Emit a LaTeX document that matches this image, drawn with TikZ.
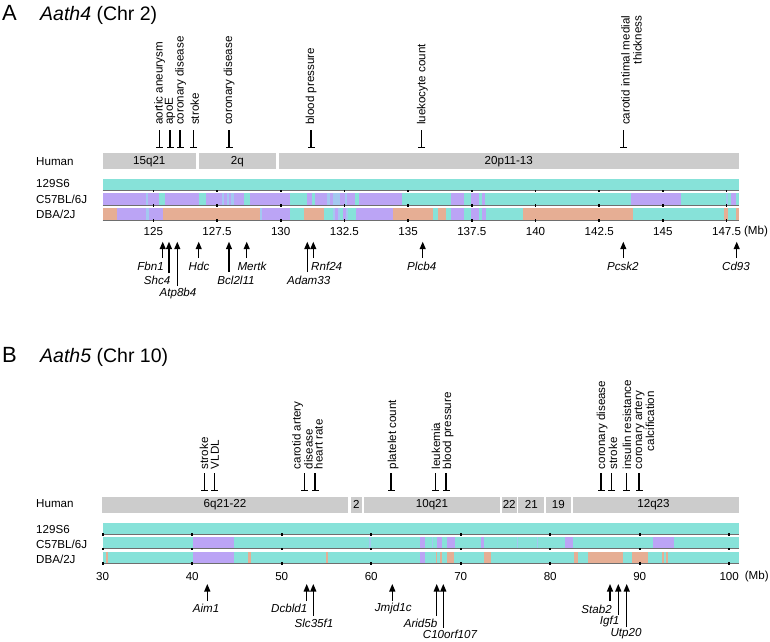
\documentclass[tikz,border=0pt]{standalone}
\usepackage{fontspec}
\setmainfont{Liberation Sans}
\usetikzlibrary{arrows.meta}
\definecolor{tealc}{HTML}{87E2D9}
\definecolor{purp}{HTML}{BBA4F5}
\definecolor{salm}{HTML}{E6AE94}
\definecolor{lblue}{HTML}{A3C9F0}
\definecolor{hgray}{HTML}{CCCCCC}
\definecolor{uline}{HTML}{6E6E6E}
\begin{document}
\begin{tikzpicture}[x=1pt,y=-1pt,
  lab/.style={font=\fontsize{11.6}{12}\selectfont, inner sep=0pt},
  glab/.style={font=\fontsize{11.6}{12}\selectfont\itshape, inner sep=0pt},
  rlab/.style={font=\fontsize{11.6}{12}\selectfont, inner sep=0pt, rotate=90, anchor=west},
  tbar/.style={line width=1.2pt, -{Bar[width=7pt,line width=1.2pt]}},
  garrow/.style={line width=1.2pt, -{Triangle[width=6pt,length=7.5pt]}},
  uln/.style={draw=uline, line width=0.8pt},
  tickm/.style={fill=black},
  ptitle/.style={anchor=base west, inner sep=0pt, font=\fontsize{22}{22}\selectfont},
  ttitle/.style={anchor=base west, inner sep=0pt, font=\fontsize{19.5}{20}\selectfont},
  hseg/.style={fill=hgray}
]
\useasboundingbox (0,0) rectangle (770,641);

%================ PANEL A ================
\node[ptitle] (pA) at (2,20) {A};
\node[ttitle] (tA) at (40,20) {\textit{Aath4} (Chr 2)};

% human bar
\fill[hseg] (102.7,153.3) rectangle (196,169.3);
\fill[hseg] (199,153.3) rectangle (275.7,169.3);
\fill[hseg] (278.7,153.3) rectangle (739,169.3);
\node[lab] (hA1) at (149.3,161.3) {15q21};
\node[lab] (hA2) at (237.3,161.3) {2q};
\node[lab] (hA3) at (508.8,161.3) {20p11-13};
\node[lab, anchor=west] (humA) at (36,161.3) {Human};

% strain labels
\node[lab, anchor=west] (sA1) at (36,183.5) {129S6};
\node[lab, anchor=west] (sA2) at (36,199) {C57BL/6J};
\node[lab, anchor=west] (sA3) at (36,214) {DBA/2J};

% strain bars
\fill[tealc] (102.7,178.5) rectangle (739,190.5);
\fill[tealc] (102.7,193) rectangle (739,205);
\fill[tealc] (102.7,208) rectangle (739,220);
\foreach \a/\b/\c in {102.7/145.7/purp,145.7/148.3/lblue,148.3/159.3/purp,165/199/purp,
  206/221.7/purp,221.7/224/lblue,224/227/purp,227/228.5/lblue,228.5/231/purp,231/234/lblue,
  234/244/purp,250/290/purp,306.7/312.3/purp,315/326.7/purp,326.7/330/lblue,330/333.3/purp,
  333.3/340/lblue,340/345/purp,345/346.7/lblue,346.7/355/purp,359.3/401.7/purp,
  450.7/464.3/purp,471/479.3/purp,482.3/485/purp,631/681/purp,726/728.3/lblue,731/736/purp}
  \fill[\c] (\a,193) rectangle (\b,205);
\foreach \a/\b/\c in {102.7/116.7/salm,116.7/145.7/purp,145.7/149/lblue,149/163.3/purp,
  163.3/260/salm,260/262.3/lblue,262.3/290/purp,304/324/salm,333.3/335/lblue,335/338.3/purp,
  338.3/340/lblue,343.3/346/purp,346/348.3/lblue,356/393.3/purp,393.3/433.3/salm,
  438.3/445.7/salm,450.7/464.3/purp,471/479.3/purp,482.3/485.7/purp,523.3/633.3/salm,
  724/728.3/salm,736/739/salm}
  \fill[\c] (\a,208) rectangle (\b,220);
\foreach \y in {190.8,205.3,220.3} \draw[uln] (102.7,\y) -- (739,\y);

% axis ticks and labels
\foreach \x/\t [count=\i] in {153.3/125,217/127.5,280.7/130,344.4/132.5,408.1/135,
  471.8/137.5,535.5/140,599.2/142.5,662.9/145,726.6/147.5}{
  \foreach \y in {190.8,205.3,220.3} \fill[tickm] (\x-0.8,\y-1.3) rectangle (\x+0.8,\y+1.3);
  \node[lab] (axA\i) at (\x,231.7) {\t};
}
\node[lab] (mbA) at (756,231.7) {(Mb)};

% top trait markers
\foreach \x/\tx/\t [count=\i] in {159.3/159.5/aortic aneurysm,170/170/apoE,180/180.5/coronary disease,
  193.3/194.7/stroke,229/229/coronary disease,311/311/blood pressure,421.7/422.3/luekocyte count}{
  \coordinate (mtA\i) at (\x,130);
  \coordinate (mbA\i) at (\x,148.3);
  \draw[tbar] (mtA\i) -- (mbA\i);
  \node[rlab] (trA\i) at (\tx,125) {\t};
}
\coordinate (mtA8) at (623.3,130);
\coordinate (mbA8) at (623.3,148.3);
\draw[tbar] (mtA8) -- (mbA8);
\node[rlab, align=right] (trA8) at (631.5,125) {carotid intimal medial\\thickness};

% gene arrows
\foreach \x/\yb [count=\i] in {162.7/258,169/273,177.3/286,198.7/258,229/272,246.7/258,
  307.3/272,313.3/258,422.7/258,623.3/258,736.7/258}{
  \coordinate (gtA\i) at (\x,241.7);
  \coordinate (gbA\i) at (\x,\yb);
  \draw[garrow] (gbA\i) -- (gtA\i);
}
\node[glab, anchor=east] (gA1) at (164,266.5) {Fbn1};
\node[glab, anchor=east] (gA2) at (170.5,280) {Shc4};
\node[glab] (gA3) at (178,293.3) {Atp8b4};
\node[glab] (gA4) at (199,266.5) {Hdc};
\node[glab] (gA5) at (236,280) {Bcl2l11};
\node[glab] (gA6) at (252,266.5) {Mertk};
\node[glab] (gA7) at (308.7,280) {Adam33};
\node[glab, anchor=west] (gA8) at (311,266.5) {Rnf24};
\node[glab] (gA9) at (421.7,266.5) {Plcb4};
\node[glab] (gA10) at (622.8,266.5) {Pcsk2};
\node[glab] (gA11) at (736,266.5) {Cd93};

%================ PANEL B ================
\node[ptitle] (pB) at (2,362) {B};
\node[ttitle] (tB) at (40,362) {\textit{Aath5} (Chr 10)};

% human bar
\foreach \a/\b in {101.7/348.3,351/361.7,364/500,501.7/516.7,518.3/544.3,546/570.7,572.7/739}
  \fill[hseg] (\a,496.7) rectangle (\b,512.7);
\node[lab] (hB1) at (225,504.7) {6q21-22};
\node[lab] (hB2) at (356.4,504.7) {2};
\node[lab] (hB3) at (432,504.7) {10q21};
\node[lab] (hB4) at (509.2,504.7) {22};
\node[lab] (hB5) at (531.3,504.7) {21};
\node[lab] (hB6) at (558.3,504.7) {19};
\node[lab] (hB7) at (653.5,504.7) {12q23};
\node[lab, anchor=west] (humB) at (36,503.5) {Human};

\node[lab, anchor=west] (sB1) at (36,529.5) {129S6};
\node[lab, anchor=west] (sB2) at (36,544.5) {C57BL/6J};
\node[lab, anchor=west] (sB3) at (36,559.5) {DBA/2J};

\fill[tealc] (102.7,522.5) rectangle (739,534);
\fill[tealc] (102.7,537) rectangle (739,548.5);
\fill[tealc] (102.7,551.5) rectangle (739,563);
\foreach \a/\b/\c in {192.7/234.3/purp,369.3/371/lblue,420/425/purp,431.7/433.3/lblue,
  437.3/441.7/purp,446.7/455/purp,480.7/484/purp,516.7/518.3/lblue,536.7/537.7/lblue,
  565/573.3/purp,652.7/674.3/purp}
  \fill[\c] (\a,537) rectangle (\b,548.5);
\foreach \a/\b/\c in {106/108.3/salm,192.7/234.3/purp,248.3/250.7/salm,326/328.3/salm,
  420/425/purp,435.7/437.3/salm,440/441.7/salm,446.7/454/salm,484.3/491/salm,
  574/577.7/salm,587.7/623.3/salm,631.7/648.3/salm,661.7/663.5/salm,665.5/668.3/salm}
  \fill[\c] (\a,551.5) rectangle (\b,563);
\foreach \y in {534.3,548.8,563.3} \draw[uln] (102.7,\y) -- (739,\y);

\foreach \x/\t [count=\i] in {102.7/30,192.2/40,281.7/50,371.2/60,460.7/70,550.2/80,639.7/90,729.2/100}{
  \foreach \y in {534.3,548.8,563.3} \fill[tickm] (\x-0.8,\y-1.3) rectangle (\x+0.8,\y+1.3);
  \node[lab] (axB\i) at (\x,576.7) {\t};
}
\node[lab] (mbB) at (756.7,576.7) {(Mb)};

% top trait markers
\foreach \x/\tx/\t [count=\i] in {204.3/204/stroke,214.3/215/VLDL,315/318.5/heart rate,
  391/393/platelet count,435.7/436/leukemia,446/448/blood pressure,601/602/coronary disease,
  611.7/613/stroke,626.3/627/insulin resistance}{
  \coordinate (mtB\i) at (\x,473.3);
  \coordinate (mbB\i) at (\x,490.7);
  \draw[tbar] (mtB\i) -- (mbB\i);
  \node[rlab] (trB\i) at (\tx,469.3) {\t};
}
\coordinate (mtB10) at (304.3,473.3);
\coordinate (mbB10) at (304.3,490.7);
\draw[tbar] (mtB10) -- (mbB10);
\node[rlab, align=left] (trB10) at (302.5,469.3) {carotid artery\\disease};
\coordinate (mtB11) at (639,473.3);
\coordinate (mbB11) at (639,490.7);
\draw[tbar] (mtB11) -- (mbB11);
\node[rlab, align=right] (trB11) at (644.5,469.3) {coronary artery\\calcification};

% gene arrows
\foreach \x/\yb [count=\i] in {207.3/601,306.7/601,313.3/616,392.3/601,436.7/616,443.3/628,
  610/601,618.3/615,626.7/627}{
  \coordinate (gtB\i) at (\x,584);
  \coordinate (gbB\i) at (\x,\yb);
  \draw[garrow] (gbB\i) -- (gtB\i);
}
\node[glab] (gB1) at (206,608.3) {Aim1};
\node[glab, anchor=east] (gB2) at (307.5,608.3) {Dcbld1};
\node[glab] (gB3) at (314,623) {Slc35f1};
\node[glab] (gB4) at (393.3,608.3) {Jmjd1c};
\node[glab, anchor=east] (gB5) at (437.5,623) {Arid5b};
\node[glab] (gB6) at (450,634.3) {C10orf107};
\node[glab, anchor=east] (gB7) at (612,609) {Stab2};
\node[glab, anchor=east] (gB8) at (619.5,621.7) {Igf1};
\node[glab] (gB9) at (626,633.5) {Utp20};
\end{tikzpicture}
\end{document}
